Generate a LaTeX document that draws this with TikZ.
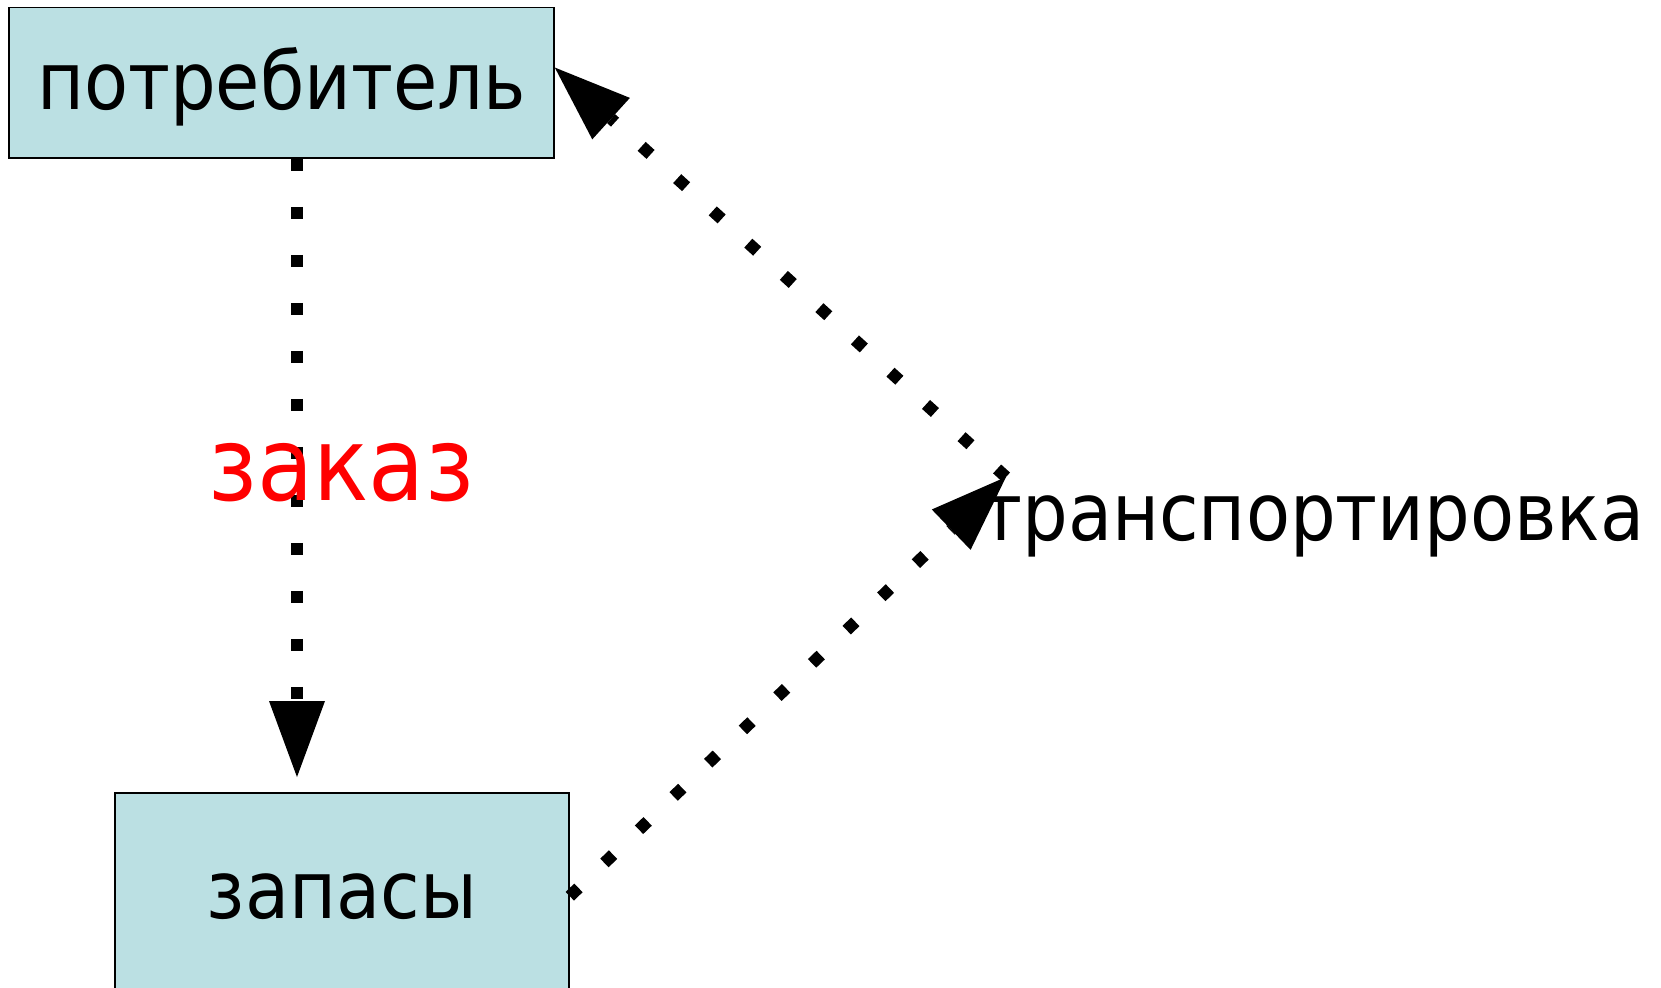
\documentclass[tikz,border=0pt]{standalone}
\usepackage{fontspec}
\setmainfont[FakeStretch=0.9]{DejaVu Sans}
\usetikzlibrary{arrows.meta,calc}
\definecolor{boxfill}{RGB}{187,224,227}
\definecolor{ordred}{RGB}{255,0,0}
\begin{document}
\begin{tikzpicture}[x=0.5pt,y=-0.5pt,
  box/.style={draw=black,line width=0.8pt,fill=boxfill,inner sep=0pt,
    font=\fontsize{40}{48}\selectfont},
  lbl/.style={inner sep=0pt,font=\fontsize{40}{48}\selectfont},
  flow/.style={line width=6pt,line cap=butt,dash pattern=on 6pt off 18pt,
    -{Triangle[length=38pt,width=28pt,line width=0pt 0 0]}}
]
\useasboundingbox (0,0) rectangle (1661,987);
\node[box,minimum width=272.5pt,minimum height=75.25pt,
  text height=30.4pt,text depth=3.6pt] (top) at (281.5,82.75) {потребитель};
\node[box,minimum width=227pt,minimum height=103.5pt] (bot) at (342,896.5) {запасы};
\coordinate (hub) at (1006,477);
\coordinate (ptip) at ($(top.north east)!0.4!(top.south east)$);
\coordinate (zstart) at ($(bot.north east)+(0,104)$);
\coordinate (otip) at (297,777);
\draw[flow] (top.south -| otip) -- (otip);
\draw[flow] (hub) -- (ptip);
\draw[flow] (zstart) -- (hub);
\node[lbl,text=ordred,font=\fontsize{51}{61}\selectfont,anchor=base] (ord) at (341,500) {заказ};
\node[lbl,anchor=base west] (tr) at (980,540) {транспортировка};
\end{tikzpicture}
\end{document}
